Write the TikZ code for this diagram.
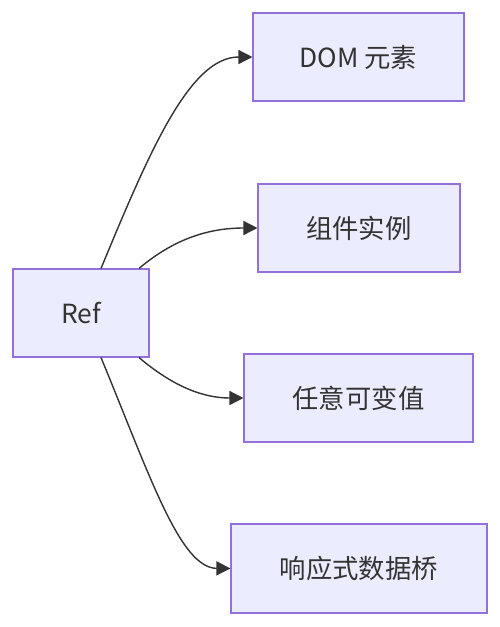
\documentclass[tikz,border=0pt]{standalone}
\usepackage{fontspec}
\setmainfont{Noto Sans CJK SC}
\usetikzlibrary{arrows.meta}
\definecolor{boxfill}{HTML}{ECECFF}
\definecolor{boxline}{HTML}{9370DB}
\definecolor{edgecol}{HTML}{333333}
\begin{document}
\begin{tikzpicture}[x=0.02cm,y=-0.02cm,
  box/.style={draw=boxline, fill=boxfill, line width=0.6pt, inner sep=0pt, text=edgecol, font=\fontsize{15}{18}\selectfont},
  link/.style={draw=edgecol, line width=0.8pt, -{Triangle[length=8pt,width=8pt]}}]
\useasboundingbox (0,0) rectangle (500,627);
\node[box, minimum width=136*0.02cm, minimum height=88*0.02cm] (ref) at (81,313) {Ref};
\node[box, minimum width=211*0.02cm, minimum height=88*0.02cm] (dom) at (358.5,57) {DOM 元素};
\node[box, minimum width=202*0.02cm, minimum height=88*0.02cm] (comp) at (359,228) {组件实例};
\node[box, minimum width=229*0.02cm, minimum height=88*0.02cm] (val) at (358.5,398) {任意可变值};
\node[box, minimum width=256*0.02cm, minimum height=89*0.02cm] (bridge) at (359,568.5) {响应式数据桥};

\path[link] ([xshift=20*0.02cm]ref.north) .. controls (150,150) and (190,57) .. (dom.west);
\path[link] ([xshift=58*0.02cm]ref.north) .. controls (175,238) and (210,228) .. (comp.west);
\path[link] ([xshift=58*0.02cm]ref.south) .. controls (175,388) and (205,398) .. (val.west);
\path[link] ([xshift=20*0.02cm]ref.south) .. controls (150,476) and (180,568) .. (bridge.west);
\end{tikzpicture}
\end{document}
